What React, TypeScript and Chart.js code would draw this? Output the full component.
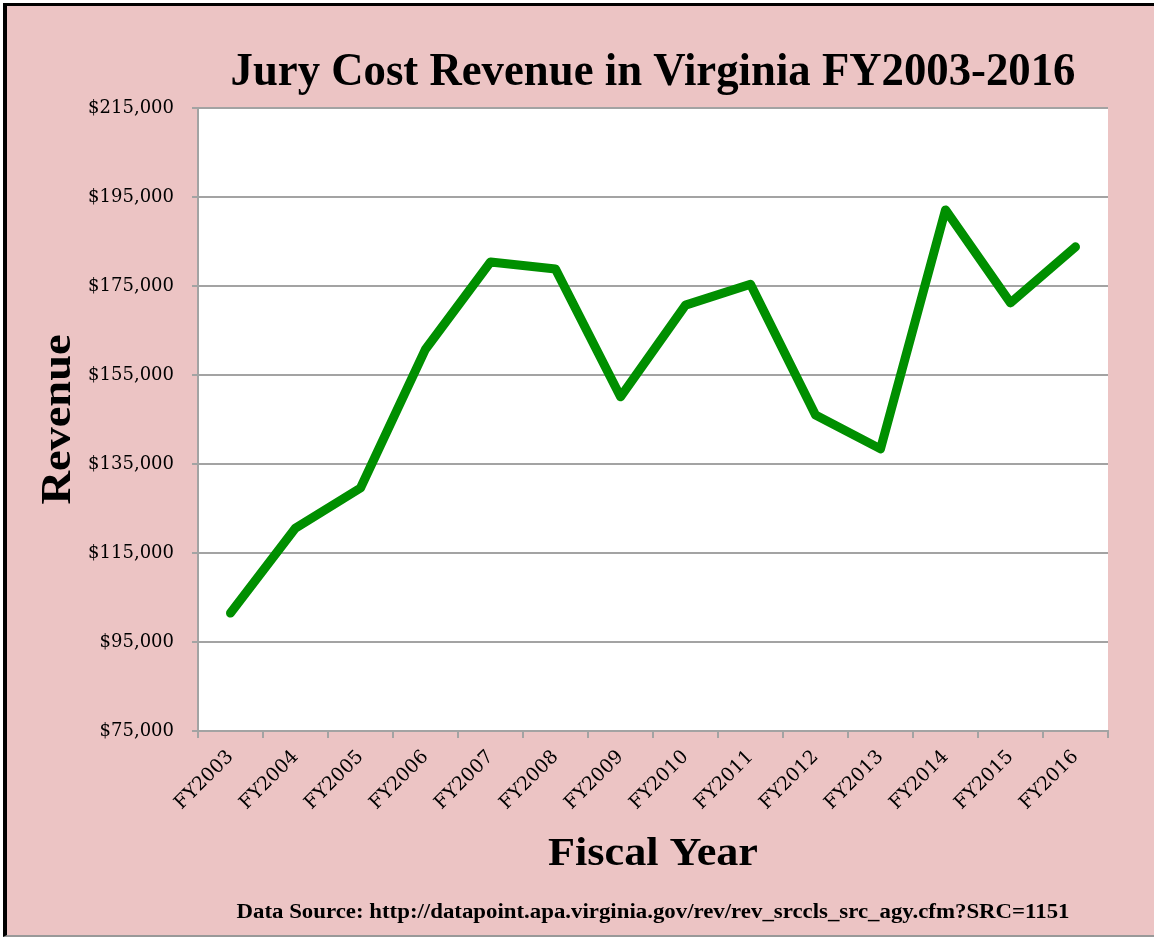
import React, { useEffect, useRef } from "react";
import { Chart, registerables } from "chart.js";

Chart.register(...registerables);

const categories = [
  "FY2003", "FY2004", "FY2005", "FY2006", "FY2007", "FY2008", "FY2009",
  "FY2010", "FY2011", "FY2012", "FY2013", "FY2014", "FY2015", "FY2016",
];
const revenue = [
  101500, 120600, 129600, 160800, 180400, 178800, 150100,
  170700, 175400, 146000, 138400, 192100, 171200, 183800,
];
const yMin = 75000;
const yMax = 215000;
const yStep = 20000;

const titleText = "Jury Cost Revenue in Virginia FY2003-2016";
const xTitleText = "Fiscal Year";
const yTitleText = "Revenue";
const sourceText = "Data Source: http://datapoint.apa.virginia.gov/rev/rev_srccls_src_agy.cfm?SRC=1151";

const PINK = "#ECC4C4";
const GREEN = "#008F00";
const GRID = "#A3A3A3";
const W = 1147;
const H = 929;

function drawFitted(
  ctx: CanvasRenderingContext2D,
  text: string,
  x: number,
  y: number,
  font: string,
  width: number,
  rotate = 0
) {
  ctx.save();
  ctx.font = font;
  const w = ctx.measureText(text).width;
  ctx.translate(x, y);
  if (rotate) ctx.rotate(rotate);
  ctx.scale(width / w, 1);
  ctx.textAlign = "center";
  ctx.textBaseline = "alphabetic";
  ctx.fillStyle = "#000";
  ctx.fillText(text, 0, 0);
  ctx.restore();
}

const decorPlugin = {
  id: "decor",
  beforeDraw(chart: any) {
    const { ctx, chartArea } = chart;
    ctx.save();
    ctx.fillStyle = "#FFFFFF";
    ctx.fillRect(chartArea.left, chartArea.top, chartArea.right - chartArea.left, chartArea.bottom - chartArea.top);
    ctx.restore();
  },
  afterDraw(chart: any) {
    const { ctx, chartArea } = chart;
    const cx = (chartArea.left + chartArea.right) / 2;
    const cy = (chartArea.top + chartArea.bottom) / 2;
    drawFitted(ctx, titleText, cx, 79, "bold 47px 'Liberation Serif'", 845);
    drawFitted(ctx, xTitleText, cx, 859, "bold 41px 'Liberation Serif'", 210);
    drawFitted(ctx, yTitleText, 63, cy, "bold 42px 'Liberation Serif'", 170, -Math.PI / 2);
    drawFitted(ctx, sourceText, cx, 912, "bold 20px 'Liberation Serif'", 833);
  },
};

export default function App() {
  const ref = useRef<HTMLCanvasElement | null>(null);

  useEffect(() => {
    if (!ref.current) return;
    const chart = new Chart(ref.current, {
      type: "line",
      data: {
        labels: categories,
        datasets: [
          {
            label: "Revenue",
            data: revenue,
            borderColor: GREEN,
            backgroundColor: GREEN,
            borderWidth: 9,
            pointRadius: 0,
            pointHoverRadius: 0,
            borderCapStyle: "round",
            borderJoinStyle: "round",
            tension: 0,
            fill: false,
          },
        ],
      },
      options: {
        responsive: false,
        animation: false,
        devicePixelRatio: 1,
        layout: { padding: { top: 102, right: 46, left: 0, bottom: 0 } },
        plugins: {
          legend: { display: false },
          title: { display: false },
          tooltip: { enabled: false },
        },
        scales: {
          x: {
            type: "category",
            offset: true,
            grid: {
              offset: true,
              drawOnChartArea: false,
              drawTicks: true,
              tickLength: 7,
              color: GRID,
              lineWidth: 2,
            },
            border: { display: true, color: GRID, width: 2 },
            ticks: {
              autoSkip: false,
              minRotation: 45,
              maxRotation: 45,
              color: "#000",
              padding: 8,
              font: { family: "'DejaVu Serif'", size: 19 },
            },
            afterFit(scale: any) {
              scale.height = H - 725;
            },
          },
          y: {
            min: yMin,
            max: yMax,
            grid: {
              color: GRID,
              lineWidth: 2,
              tickLength: 6,
              drawTicks: true,
            },
            border: { display: true, color: GRID, width: 2 },
            ticks: {
              stepSize: yStep,
              color: "#000",
              padding: 18,
              font: { family: "'DejaVu Serif'", size: 18 },
              callback: (v: any) => "$" + Number(v).toLocaleString("en-US"),
            },
            afterFit(scale: any) {
              scale.width = 191;
            },
          },
        },
      },
      plugins: [decorPlugin],
    });
    return () => chart.destroy();
  }, []);

  return (
    <div style={{ position: "fixed", left: 0, top: 0, width: 1154, height: 938, background: "#fff", overflow: "hidden" }}>
      <div
        style={{
          position: "absolute",
          left: 3,
          top: 3,
          width: 1151,
          height: 934,
          boxSizing: "border-box",
          borderLeft: "4px solid #000",
          borderTop: "3px solid #000",
          borderBottom: "2px solid #999",
          background: PINK,
        }}
      >
        <canvas ref={ref} width={W} height={H} style={{ display: "block", width: W, height: H }} />
      </div>
    </div>
  );
}
